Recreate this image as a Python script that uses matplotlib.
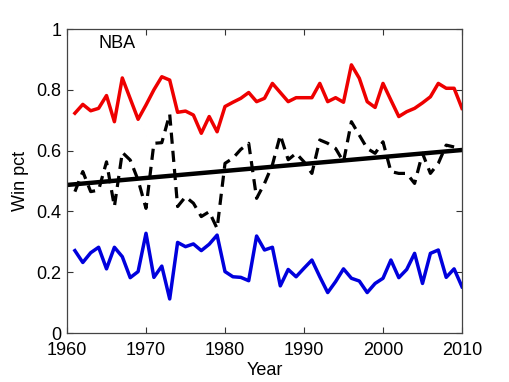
import matplotlib
matplotlib.use("Agg")
import matplotlib.pyplot as plt

years = list(range(1961, 2011))

best_pct = [0.723, 0.752, 0.731, 0.739, 0.781, 0.695, 0.839, 0.771, 0.703, 0.75,
            0.80, 0.843, 0.832, 0.726, 0.730, 0.717, 0.657, 0.712, 0.662, 0.745,
            0.759, 0.772, 0.791, 0.761, 0.772, 0.821, 0.791, 0.761, 0.774, 0.774,
            0.774, 0.821, 0.761, 0.774, 0.759, 0.882, 0.838, 0.761, 0.742, 0.821,
            0.766, 0.712, 0.728, 0.739, 0.757, 0.777, 0.821, 0.805, 0.805, 0.739]

worst_pct = [0.271, 0.232, 0.264, 0.282, 0.211, 0.282, 0.251, 0.182, 0.202, 0.328,
             0.183, 0.220, 0.112, 0.298, 0.284, 0.293, 0.271, 0.292, 0.322, 0.202,
             0.185, 0.183, 0.172, 0.319, 0.273, 0.282, 0.155, 0.209, 0.185, 0.213,
             0.240, 0.185, 0.133, 0.169, 0.211, 0.180, 0.171, 0.133, 0.163, 0.180,
             0.240, 0.182, 0.209, 0.262, 0.163, 0.262, 0.273, 0.183, 0.211, 0.152]

mid_years = list(range(1961, 2010))
mid_pct = [0.465, 0.531, 0.465, 0.470, 0.563, 0.416, 0.594, 0.569, 0.503, 0.410,
           0.624, 0.626, 0.720, 0.416, 0.448, 0.427, 0.383, 0.399, 0.344, 0.558,
           0.575, 0.604, 0.624, 0.443, 0.492, 0.553, 0.651, 0.570, 0.591, 0.563,
           0.525, 0.635, 0.624, 0.607, 0.563, 0.695, 0.651, 0.607, 0.591, 0.629,
           0.531, 0.525, 0.525, 0.492, 0.591, 0.525, 0.558, 0.618, 0.612]

trend_years = [1960, 2010]
trend_pct = [0.487, 0.602]

xticks = [1960, 1970, 1980, 1990, 2000, 2010]
yticks = [0, 0.2, 0.4, 0.6, 0.8, 1]
ytick_labels = ["0", "0.2", "0.4", "0.6", "0.8", "1"]

plt.rcParams['font.family'] = ['Liberation Sans', 'DejaVu Sans']

fig = plt.figure(figsize=(5.1, 3.82), dpi=100)
ax = fig.add_axes([67/510, (382-333)/382, (462-67)/510, (333-29)/382])

ax.plot(years, best_pct, color='#ee0000', lw=2.5)
ax.plot(years, worst_pct, color='#0000dd', lw=2.5)
ax.plot(mid_years, mid_pct, color='black', lw=2.3, dashes=(3.5, 2.2))
ax.plot(trend_years, trend_pct, color='black', lw=3.2)

ax.text(1964, 0.952, "NBA", fontsize=13, va='center', ha='left')

ax.set_xlim(1960, 2010)
ax.set_ylim(0, 1)
ax.set_xticks(xticks)
ax.set_yticks(yticks)
ax.set_yticklabels(ytick_labels)
ax.tick_params(direction='in', length=4, width=0.8, labelsize=13, top=True, right=True,
               color='#333333')
ax.tick_params(axis='x', pad=6.5)
ax.tick_params(axis='y', pad=4)
for s in ax.spines.values():
    s.set_color('#444444')
    s.set_linewidth(0.9)
ax.set_xlabel("Year", fontsize=13, labelpad=2)
ax.set_ylabel("Win pct", fontsize=13, labelpad=5)

fig.savefig("out.png", dpi=100)
